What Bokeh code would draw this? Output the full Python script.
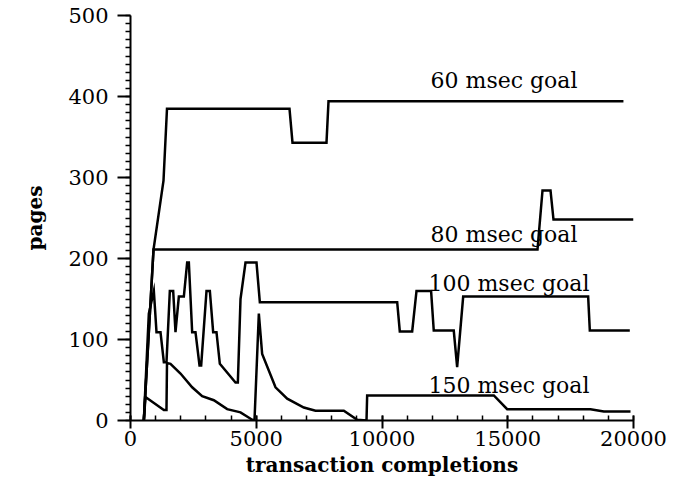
from bokeh.plotting import figure
from bokeh.models import Range1d, SingleIntervalTicker
from bokeh.core.properties import value
from bokeh.embed import file_html
from bokeh.resources import INLINE

# ---- data ----
x60 = [530, 915, 1312, 1451, 6322, 6441, 7793, 7873, 19600]
y60 = [0, 211, 296, 385, 385, 343, 343, 394, 394]

x80 = [530, 915, 16183, 16382, 16700, 16819, 20000]
y80 = [0, 211, 211, 284, 284, 248, 248]

x100 = [530, 729, 928, 1034, 1193, 1326, 1431, 1564, 1697, 1789, 1922, 2121, 2253, 2320,
        2452, 2584, 2744, 2810, 3022, 3155, 3287, 3419, 3552, 4175, 4268, 4374, 4573,
        5010, 5143, 10604, 10708, 11200, 11372, 11952, 12058, 12853, 12988, 13228,
        18197, 18263, 19853]
y100 = [0, 132, 160, 109, 109, 72, 72, 160, 160, 109, 153, 153, 195, 195,
        109, 109, 68, 68, 160, 160, 109, 109, 70, 47, 47, 150, 195,
        195, 146, 146, 110, 110, 160, 160, 111, 111, 66, 153,
        153, 111, 111]

x150 = [530, 596, 1326, 1431, 1451, 1590, 1988, 2452, 2850, 3313, 3844, 4374, 4838, 4930,
        5103, 5235, 5766, 6231, 6892, 7356, 8483, 9013, 9384, 9410, 14447, 14977,
        18290, 18820, 19881]
y150 = [0, 29, 13, 13, 71, 70, 58, 41, 30, 25, 14, 10, 1, 0,
        132, 82, 41, 27, 16, 12, 12, 1, 0, 31, 31, 14,
        14, 11, 11]

label_text = ["60 msec goal", "80 msec goal", "100 msec goal", "150 msec goal"]
label_x = [11930, 11930, 11850, 11850]
label_y = [420, 230, 169, 43]

SERIF = "DejaVu Serif"

p = figure(width=685, height=491, output_backend="svg", toolbar_location=None,
           x_range=Range1d(0, 20000), y_range=Range1d(0, 500),
           min_border_left=130, min_border_right=52, min_border_top=15, min_border_bottom=71)
p.outline_line_color = None
p.background_fill_color = "white"
p.border_fill_color = "white"
p.xgrid.grid_line_color = None
p.ygrid.grid_line_color = None

for xs, ys in [(x60, y60), (x80, y80), (x100, y100), (x150, y150)]:
    p.line(xs, ys, line_color="black", line_width=2.5, line_join="miter")

p.text(x=label_x, y=label_y, text=label_text, text_font=value(SERIF),
       text_font_size="22px", text_align="left", text_baseline="alphabetic",
       text_color="black")

# x axis
xa = p.xaxis[0]
xa.ticker = SingleIntervalTicker(interval=5000, num_minor_ticks=5)
xa.axis_line_width = 2
xa.major_tick_line_width = 2
xa.minor_tick_line_width = 1.5
xa.major_tick_out = 8
xa.major_tick_in = 5
xa.minor_tick_in = 5
xa.minor_tick_out = 0
xa.major_label_standoff = 2
xa.major_label_text_font = SERIF
xa.major_label_text_font_size = "21px"
xa.major_label_text_color = "black"
xa.axis_label = "transaction completions"
xa.axis_label_text_font = SERIF
xa.axis_label_text_font_style = "bold"
xa.axis_label_text_font_size = "20px"
xa.axis_label_standoff = 4
xa.axis_label_text_color = "black"

# y axis
ya = p.yaxis[0]
ya.ticker = SingleIntervalTicker(interval=100, num_minor_ticks=10)
ya.axis_line_width = 2
ya.major_tick_line_width = 2
ya.minor_tick_line_width = 1.5
ya.major_tick_out = 13
ya.major_tick_in = 0
ya.minor_tick_out = 5
ya.minor_tick_in = 0
ya.major_label_standoff = 9
ya.major_label_text_font = SERIF
ya.major_label_text_font_size = "21px"
ya.major_label_text_color = "black"
ya.axis_label = "pages"
ya.axis_label_text_font = SERIF
ya.axis_label_text_font_style = "bold"
ya.axis_label_text_font_size = "20px"
ya.axis_label_standoff = 18
ya.axis_label_text_color = "black"

open("out.html", "w").write(file_html(p, INLINE))
